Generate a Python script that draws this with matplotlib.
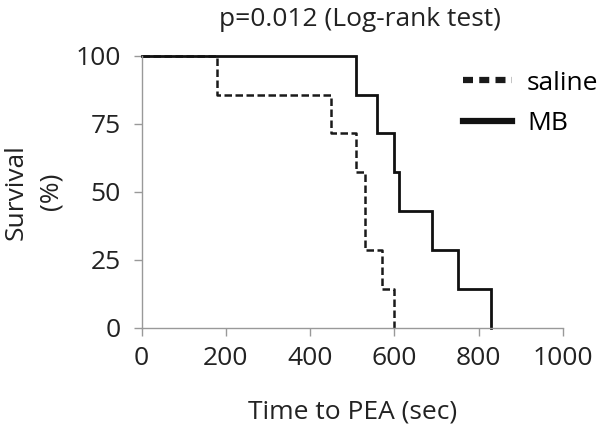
import matplotlib
matplotlib.use("Agg")
import matplotlib.pyplot as plt
from matplotlib.lines import Line2D

plt.rcParams['font.family'] = ['Open Sans', 'DejaVu Sans']

# Kaplan-Meier step data
saline_t = [0, 180, 450, 510, 530, 570, 600]
saline_s = [100, 85.7, 71.4, 57.1, 28.6, 14.3, 0]
mb_t = [0, 510, 560, 600, 610, 690, 750, 830]
mb_s = [100, 85.7, 71.4, 57.1, 42.9, 28.6, 14.3, 0]

xticks = [0, 200, 400, 600, 800, 1000]
yticks = [0, 25, 50, 75, 100]

FS = 19
TXT = '#222222'

fig = plt.figure(figsize=(6, 4.28), dpi=100)
ax = fig.add_axes([0.236, 0.234, 0.702, 0.636])

def km_xy(t, s):
    xs, ys = [t[0]], [s[0]]
    for i in range(1, len(t)):
        xs += [t[i], t[i]]
        ys += [s[i - 1], s[i]]
    return xs, ys

sx, sy = km_xy(saline_t, saline_s)
mx, my = km_xy(mb_t, mb_s)
ax.plot(sx, sy, color='#1a1a1a', lw=1.8, ls=(0, (3.0, 1.4)), solid_capstyle='butt', clip_on=False)
ax.plot(mx, my, color='#111111', lw=2.0, solid_joinstyle='miter', clip_on=False)

ax.set_xlim(0, 1000)
ax.set_ylim(0, 100)
ax.set_xticks(xticks)
ax.set_yticks(yticks)
for s in ['top', 'right']:
    ax.spines[s].set_visible(False)
for s in ['left', 'bottom']:
    ax.spines[s].set_color('#999999')
    ax.spines[s].set_linewidth(1.0)
ax.tick_params(axis='both', colors='#999999', labelcolor=TXT, labelsize=FS, length=6, width=1.0)
ax.tick_params(axis='x', pad=7)
ax.tick_params(axis='y', pad=9)

ax.set_title('p=0.012 (Log-rank test)', fontsize=FS, color=TXT, pad=21)
ax.title.set_x(0.518)
ax.set_xlabel('Time to PEA (sec)', fontsize=FS, color=TXT)
ax.xaxis.set_label_coords(0.5, -0.262)
ax.set_ylabel('Survival\n(%)', fontsize=FS, color=TXT, linespacing=1.55, va='center')
ax.yaxis.set_label_coords(-0.256, 0.5)

handles = [Line2D([], [], color='#1a1a1a', lw=4.5, ls=(0, (1.6, 1.0))),
           Line2D([], [], color='#111111', lw=4.5)]
ax.legend(handles, ['saline', 'MB'], loc='upper left', bbox_to_anchor=(0.763, 0.945),
          frameon=False, fontsize=FS, handlelength=1.86, handletextpad=0.57,
          labelspacing=0.6, borderaxespad=0, borderpad=0)

fig.savefig('out.png', dpi=100)
